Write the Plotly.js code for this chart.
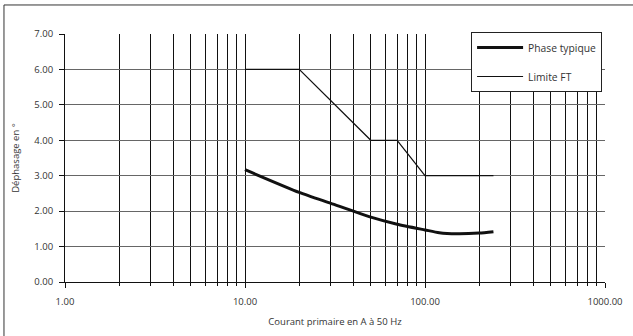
<!DOCTYPE html>
<html>
<head>
<meta charset="utf-8">
<script src="https://cdn.plot.ly/plotly-3.0.1.min.js"></script>
<style>html,body{margin:0;padding:0;background:#fff;}#chart{width:633px;height:336px;}</style>
</head>
<body>
<div id="chart"></div>
<script>
// Data
const phaseX = [10, 20, 30, 50, 70, 100, 120, 150, 200, 240];
const phaseY = [3.17, 2.53, 2.22, 1.83, 1.63, 1.47, 1.39, 1.36, 1.38, 1.42];
const limitX = [10, 20, 50, 70, 100, 240];
const limitY = [6, 6, 4, 4, 3, 3];
const xMajor = [1, 10, 100, 1000];
const xMajorText = ["1.00", "10.00", "100.00", "1000.00"];
const xMinor = [2,3,4,5,6,7,8,9,20,30,40,50,60,70,80,90,200,300,400,500,600,700,800,900];
const seriesNames = ["Phase typique", "Limite FT"];

const font = {family: "Open Sans, DejaVu Sans, sans-serif", size: 9.5, color: "#333"};
const legendFont = {family: "Open Sans, DejaVu Sans, sans-serif", size: 10.3, color: "#333"};

const traces = [
  {x: phaseX, y: phaseY, name: seriesNames[0], legendgroup: "a", mode: "lines", line: {color: "#111", width: 3, shape: "spline", smoothing: 0.6}},
  {x: limitX, y: limitY, name: seriesNames[1], legendgroup: "b", mode: "lines", line: {color: "#111", width: 1.2}}
];

const layout = {
  width: 633, height: 336,
  margin: {l: 65, r: 28, t: 34, b: 54},
  paper_bgcolor: "#fff", plot_bgcolor: "#fff",
  font: font,
  showlegend: true,
  legend: {x: 0.752, y: 1.008, xanchor: "left", yanchor: "top", bgcolor: "#fff",
           bordercolor: "#222", borderwidth: 1, font: legendFont, itemwidth: 46,
           traceorder: "grouped", tracegroupgap: 10},
  xaxis: {
    type: "log", range: [0, 3],
    tickmode: "array", tickvals: xMajor, ticktext: xMajorText,
    ticks: "outside", ticklen: 5, tickcolor: "#111", ticklabelstandoff: 6,
    showgrid: true, gridcolor: "#111", gridwidth: 1,
    minor: {tickmode: "array", tickvals: xMinor, ticks: "outside", ticklen: 3, tickcolor: "#111", showgrid: true, gridcolor: "#111", gridwidth: 1},
    showline: true, linecolor: "#111", zeroline: false,
    title: {text: "Courant primaire en A à 50 Hz", font: font, standoff: 10},
    tickfont: font
  },
  yaxis: {
    range: [0, 7], dtick: 1, tick0: 0, tickformat: ".2f",
    ticks: "outside", ticklen: 5, tickcolor: "#111", ticklabelstandoff: 4,
    showgrid: true, gridcolor: "#666", gridwidth: 1,
    showline: true, linecolor: "#111", zeroline: false,
    title: {text: "Déphasage en °", font: font, standoff: 12},
    tickfont: font
  },
  shapes: [
    {type: "rect", xref: "paper", yref: "paper", x0: -0.113, x1: 1.3, y0: -0.6, y1: 1.117,
     line: {color: "#333", width: 1}, fillcolor: "rgba(0,0,0,0)", layer: "below"}
  ]
};

Plotly.newPlot("chart", traces, layout, {displayModeBar: false, staticPlot: true});
</script>
</body>
</html>
